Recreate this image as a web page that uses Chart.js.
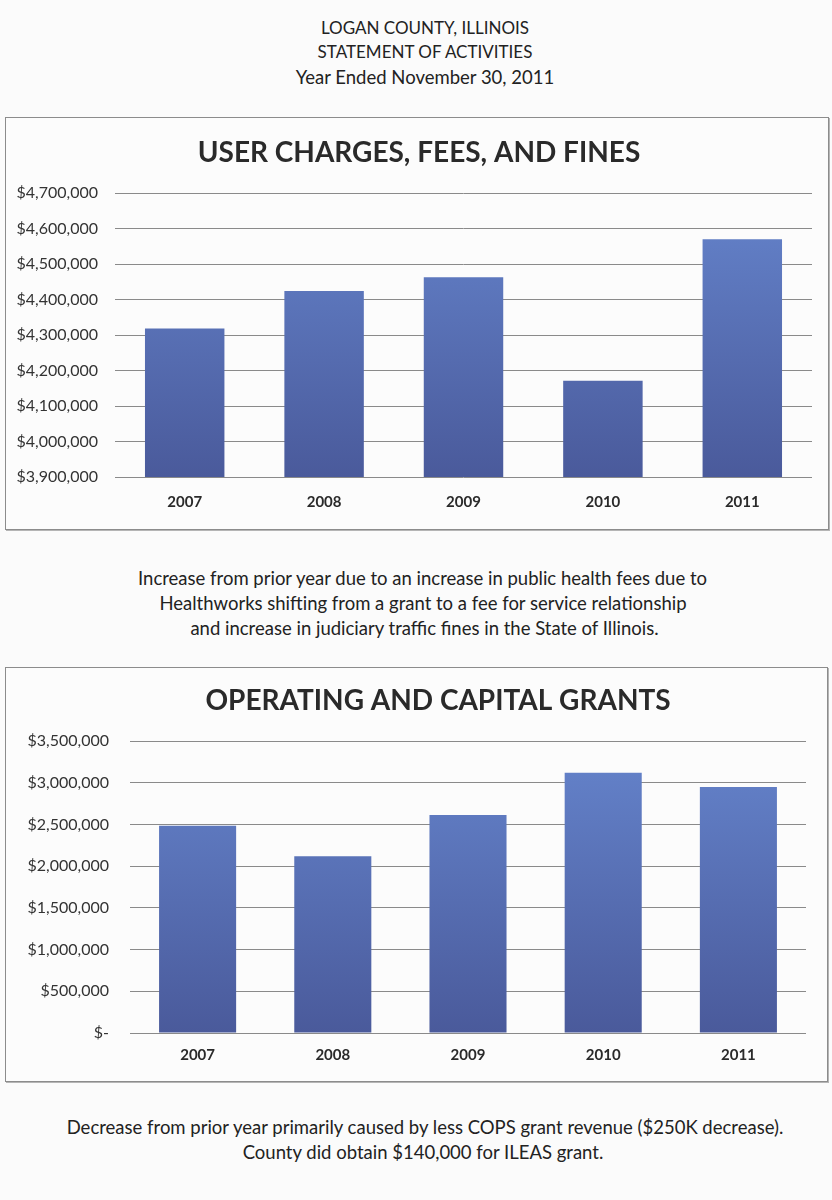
<!DOCTYPE html>
<html>
<head>
<meta charset="utf-8">
<script src="https://cdn.jsdelivr.net/npm/chart.js@4/dist/chart.umd.min.js"></script>
<style>
  body { margin: 0; background: #fbfbfb; font-family: Lato, "Open Sans", sans-serif; color: #222; }
  #page { position: relative; width: 832px; height: 1200px; }
  .line { position: absolute; left: 0; width: 850px; text-align: center; font-size: 18.5px; line-height: 20px; }
  .head { font-size: 17px; }
  .box { position: absolute; border: 1px solid #8c8c8c; box-shadow: 1px 1px 0 #b5b5b5; background: #fcfcfc; }
  .box canvas { display: block; }
</style>
</head>
<body>
<div id="page">
  <div class="line head" style="top:18px">LOGAN COUNTY, ILLINOIS</div>
  <div class="line head" style="top:42px">STATEMENT OF ACTIVITIES</div>
  <div class="line" style="top:67px">Year Ended November 30, 2011</div>

  <div class="box" style="left:5px; top:117px; width:822px; height:411px;"><canvas id="fees"></canvas></div>

  <div class="line" style="top:568px; width:845px;">Increase from prior year due to an increase in public health fees due to</div>
  <div class="line" style="top:593px; width:846px;">Healthworks shifting from a grant to a fee for service relationship</div>
  <div class="line" style="top:618px; width:849px;">and increase in judiciary traffic fines in the State of Illinois.</div>

  <div class="box" style="left:5px; top:667px; width:821px; height:413px;"><canvas id="grants"></canvas></div>

  <div class="line" style="top:1117px">Decrease from prior year primarily caused by less COPS grant revenue ($250K decrease).</div>
  <div class="line" style="top:1142px; width:846px;">County did obtain $140,000 for ILEAS grant.</div>
</div>

<script>
// Fiscal years
const years = ['2007', '2008', '2009', '2010', '2011'];
// User charges, fees, and fines
const feesValues = [4318000, 4424000, 4463000, 4171000, 4570000];
// Operating and capital grants
const grantsValues = [2485000, 2120000, 2612000, 3120000, 2948000];
// Axis ranges: min, max, step
const feesTicks = [3900000, 4700000, 100000];
const grantsTicks = [0, 3500000, 500000];

// Bars go from a lighter blue at the top to a darker one at the bottom
function barFill(context) {
    const area = context.chart.chartArea;
    if (!area) return '#5a72b8';
    const g = context.chart.ctx.createLinearGradient(0, area.top, 0, area.bottom);
    g.addColorStop(0, '#6584cc');
    g.addColorStop(1, '#4a5a9b');
    return g;
}

function money(v) {
    if (v === 0) return '$-';
    return '$' + v.toLocaleString('en-US');
}

// The title sits a bit off the plot centre, so it is drawn by hand
const titlePlugin = {
    id: 'boxTitle',
    afterDraw(chart, args, opts) {
        const ctx = chart.ctx;
        ctx.save();
        ctx.font = 'bold 28px Lato';
        ctx.fillStyle = '#2a2a2a';
        ctx.textAlign = 'center';
        ctx.textBaseline = 'middle';
        ctx.fillText(opts.text, opts.x, opts.y);
        ctx.restore();
    }
};

function makeChart(id, size, values, ticks, title, opts) {
    const canvas = document.getElementById(id);
    canvas.width = size[0];
    canvas.height = size[1];
    return new Chart(canvas, {
        type: 'bar',
        data: {
            labels: years,
            datasets: [{
                data: values,
                backgroundColor: barFill,
                borderWidth: 0,
                barPercentage: 0.57,
                categoryPercentage: 1
            }]
        },
        plugins: [titlePlugin],
        options: {
            responsive: false,
            animation: false,
            layout: { padding: { left: 0, right: opts.right, top: opts.top, bottom: 0 } },
            plugins: {
                legend: { display: false },
                tooltip: { enabled: false },
                boxTitle: { text: title, x: opts.titleX, y: opts.titleY }
            },
            scales: {
                x: {
                    grid: { display: false },
                    border: { display: false },
                    ticks: { color: '#2a2a2a', padding: opts.xPad, font: { family: 'Lato', size: 15, weight: 'bold' } },
                    afterFit: s => { s.height = opts.xHeight; }
                },
                y: {
                    min: ticks[0],
                    max: ticks[1],
                    border: { display: false },
                    grid: { color: '#8a8a8a', lineWidth: 1, drawTicks: false },
                    ticks: {
                        stepSize: ticks[2],
                        color: '#333',
                        padding: opts.yPad,
                        font: { family: 'Lato', size: 16 },
                        callback: v => money(v)
                    },
                    afterFit: s => { s.width = opts.yWidth; }
                }
            }
        }
    });
}

makeChart('fees', [822, 411], feesValues, feesTicks, 'USER CHARGES, FEES, AND FINES',
    { top: 75, right: 16, titleX: 413, titleY: 35, xPad: 8, xHeight: 52, yPad: 17, yWidth: 109 });

makeChart('grants', [821, 413], grantsValues, grantsTicks, 'OPERATING AND CAPITAL GRANTS',
    { top: 73, right: 21, titleX: 432, titleY: 33, xPad: 5, xHeight: 48, yPad: 21, yWidth: 124 });
</script>
</body>
</html>
